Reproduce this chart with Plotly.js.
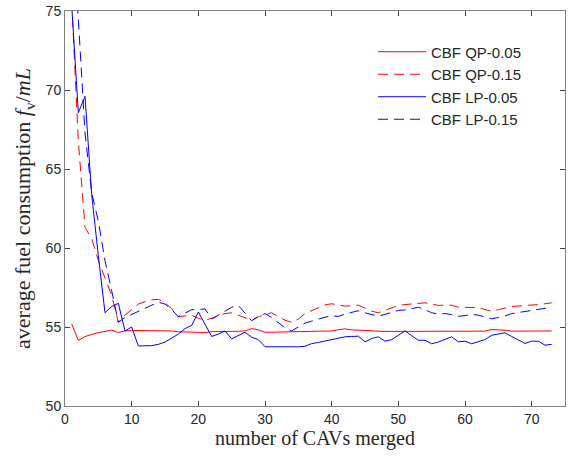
<!DOCTYPE html>
<html>
<head>
<meta charset="utf-8">
<script src="https://cdn.plot.ly/plotly-3.0.1.min.js"></script>
<style>
html,body{margin:0;padding:0;background:#fff;}
#chart{width:572px;height:456px;}
</style>
</head>
<body>
<div id="chart"></div>
<script>
// number of CAVs merged
const nCAVs = [];
for (let i = 1; i <= 73; i++) nCAVs.push(i);

const seriesNames = ["CBF QP-0.05", "CBF QP-0.15", "CBF LP-0.05", "CBF LP-0.15"];

const qp005 = [55.2,54.15,54.4,54.55,54.65,54.72,54.8,54.65,54.75,54.78,
  54.78,54.78,54.77,54.78,54.78,54.75,54.7,54.68,54.65,54.63,
  54.65,54.7,54.7,54.72,54.72,54.73,54.75,54.9,54.82,54.67,
  54.67,54.68,54.68,54.68,54.7,54.7,54.7,54.7,54.72,54.75,
  54.83,54.88,54.82,54.8,54.75,54.72,54.72,54.72,54.72,54.72,
  54.72,54.72,54.72,54.72,54.72,54.72,54.72,54.72,54.72,54.72,
  54.72,54.73,54.74,54.84,54.84,54.8,54.74,54.74,54.75,54.75,
  54.75,54.75,54.75];

const qp015 = [75.6,66.8,61.3,60.6,59.2,58.1,57.0,55.3,55.75,56.1,
  56.45,56.6,56.72,56.75,56.55,56.15,55.65,55.7,55.75,55.55,
  55.43,55.55,55.7,55.85,55.9,55.73,55.55,55.43,55.65,55.8,
  55.9,55.65,55.43,55.3,55.5,55.85,56.05,56.2,56.4,56.47,
  56.4,56.32,56.35,56.38,56.2,56.0,55.9,56.05,56.2,56.36,
  56.42,56.47,56.52,56.53,56.45,56.37,56.38,56.38,56.25,56.25,
  56.25,56.23,56.1,56.0,56.1,56.2,56.3,56.33,56.35,56.38,
  56.42,56.47,56.53];

const lp005 = [75.4,68.56,69.6,63.4,59.5,55.9,56.3,56.5,54.75,55.0,
  53.8,53.8,53.82,53.9,54.05,54.3,54.55,54.9,55.1,55.95,
  55.2,54.4,54.55,54.75,54.25,54.45,54.67,54.35,54.2,53.75,
  53.75,53.75,53.73,53.75,53.75,53.78,53.95,54.02,54.1,54.18,
  54.27,54.38,54.4,54.42,54.06,54.27,54.38,54.1,54.2,54.5,
  54.75,54.45,54.16,54.16,53.94,54.05,54.2,54.38,54.06,54.1,
  53.94,54.07,54.2,54.48,54.55,54.63,54.4,54.18,53.96,54.1,
  54.1,53.85,53.9];

const lp015 = [79.5,74.5,67.3,63.5,61.7,59.2,57.3,55.3,55.6,55.8,
  56.0,56.2,56.4,56.57,56.45,56.1,55.65,55.9,56.1,56.1,
  56.15,55.5,55.75,56.0,56.25,56.36,55.9,55.4,55.65,55.85,
  55.6,55.27,54.95,54.75,55.0,55.25,55.37,55.5,55.62,55.7,
  55.67,55.82,55.93,56.03,55.9,55.78,55.68,55.8,55.92,56.05,
  56.08,56.15,56.25,56.1,55.9,55.82,55.85,55.78,55.68,55.72,
  55.8,55.75,55.62,55.52,55.6,55.7,55.85,55.92,55.98,56.04,
  56.1,56.17,56.25];

const xTicks = [0,10,20,30,40,50,60,70];
const yTicks = [50,55,60,65,70,75];

const dashPat = "10px,6px";
const traces = [
  {x: nCAVs, y: qp005, name: seriesNames[0], mode: "lines", line: {color: "#ff0000", width: 1}},
  {x: nCAVs, y: qp015, name: seriesNames[1], mode: "lines", line: {color: "#ff0000", width: 1, dash: dashPat}},
  {x: nCAVs, y: lp005, name: seriesNames[2], mode: "lines", line: {color: "#0000ff", width: 1}},
  {x: nCAVs, y: lp015, name: seriesNames[3], mode: "lines", line: {color: "#0000ff", width: 1, dash: dashPat}}
];

const axisCommon = {
  showgrid: false, zeroline: false, showline: true, mirror: "ticks",
  linecolor: "#808080", linewidth: 1, ticks: "inside", ticklen: 5,
  tickcolor: "#404040", tickwidth: 1,
  tickfont: {family: "Liberation Sans, Arial, sans-serif", size: 14, color: "#262626"}
};

const layout = {
  width: 572, height: 456,
  margin: {l: 65, r: 7, t: 11, b: 50},
  paper_bgcolor: "#fff", plot_bgcolor: "#fff",
  showlegend: true,
  legend: {
    x: 0.616, y: 0.938, xanchor: "left", yanchor: "top",
    itemwidth: 48,
    bgcolor: "rgba(255,255,255,0)", borderwidth: 0,
    font: {family: "Liberation Sans, Arial, sans-serif", size: 15, color: "#262626"},
    tracegroupgap: 0
  },
  xaxis: Object.assign({}, axisCommon, {
    range: [0, 75], tickvals: xTicks, ticktext: xTicks.map(String),
    title: {text: "number of CAVs merged", standoff: 5,
      font: {family: "Liberation Serif, Times New Roman, serif", size: 20, color: "#262626"}}
  }),
  yaxis: Object.assign({}, axisCommon, {
    range: [50, 75], tickvals: yTicks, ticktext: yTicks.map(String),
    title: {text: "average fuel consumption <i>f</i><sub>v</sub>/<i>mL</i>", standoff: 8,
      font: {family: "Liberation Serif, Times New Roman, serif", size: 22, color: "#262626"}}
  })
};

Plotly.newPlot("chart", traces, layout, {displayModeBar: false, staticPlot: true});
</script>
</body>
</html>
